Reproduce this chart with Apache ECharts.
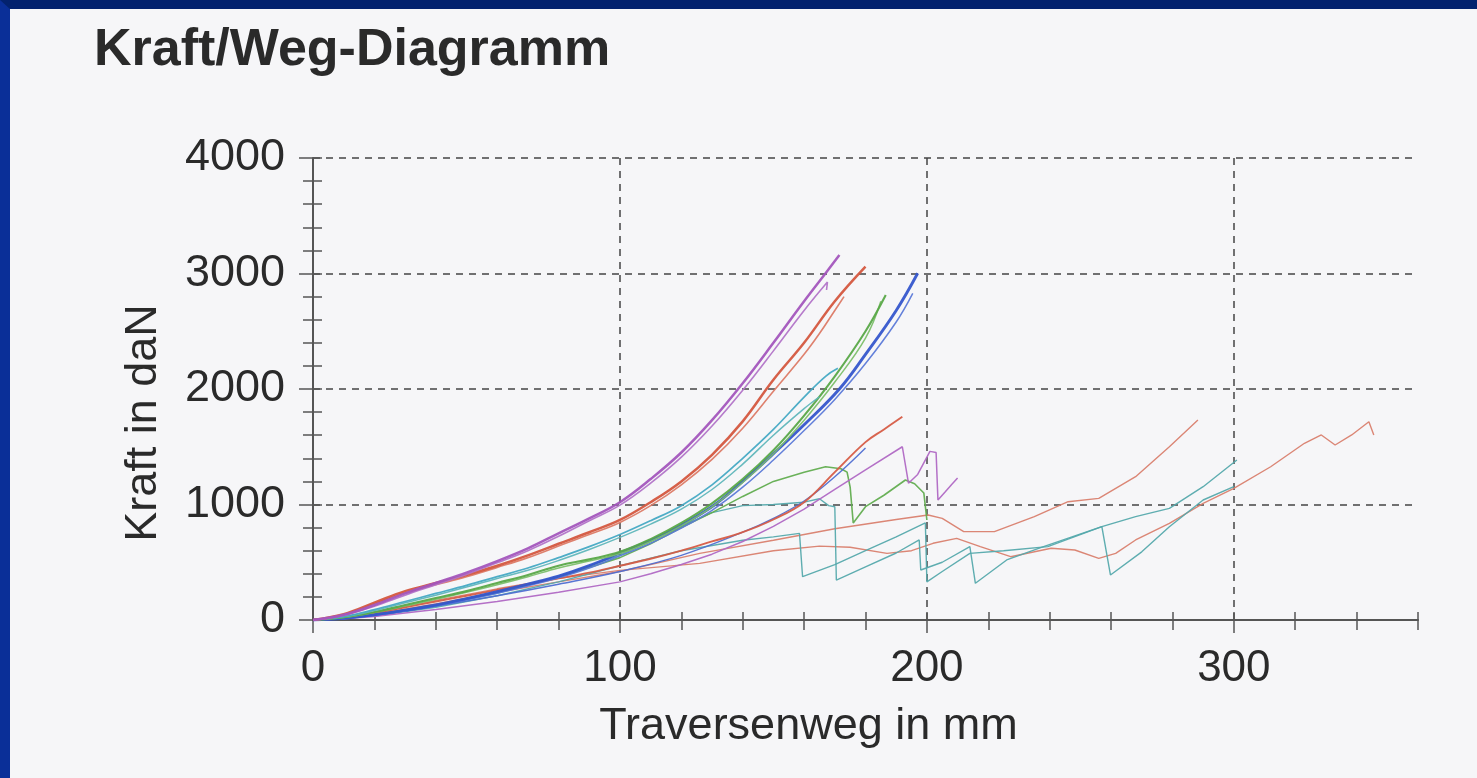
<!DOCTYPE html>
<html>
<head>
<meta charset="utf-8">
<script src="https://cdn.jsdelivr.net/npm/echarts@6/dist/echarts.min.js"></script>
<style>
html,body{margin:0;padding:0;background:#0a2c8c;}
#frame{position:absolute;left:0;top:0;width:1477px;height:778px;box-sizing:border-box;border-top:9px solid #03226e;border-left:10px solid #0a2f98;background:#f6f6f8;}
#chart{width:1467px;height:769px;}
</style>
</head>
<body>
<div id="frame"><div id="chart"></div></div>
<script>
// ---- data (Traversenweg mm, Kraft daN) ----
const title = 'Kraft/Weg-Diagramm';
const xName = 'Traversenweg in mm';
const yName = 'Kraft in daN';
const xTicks = [0, 100, 200, 300];
const yTicks = [0, 1000, 2000, 3000, 4000];

const purple1 = [[0,0],[10,45],[20,130],[30,230],[40,320],[50,410],[60,510],[70,620],[80,750],[90,880],[100,1020],[110,1220],[120,1450],[130,1730],[140,2050],[150,2400],[160,2760],[167,3002],[171.5,3160]];
const purple2 = [[0,0],[10,40],[20,120],[30,215],[40,305],[50,395],[60,495],[70,600],[80,725],[90,860],[100,995],[110,1185],[120,1410],[130,1680],[140,1990],[150,2330],[160,2680],[167.6,2926],[167.3,2857]];
const red1 = [[0,0],[10,50],[20,150],[30,250],[40,320],[50,390],[60,470],[70,560],[80,660],[90,760],[100,866],[110,1020],[120,1200],[130,1430],[140,1720],[150,2080],[160,2400],[170,2760],[180,3060]];
const red2 = [[0,0],[10,45],[20,140],[30,235],[40,305],[50,375],[60,455],[70,540],[80,640],[90,740],[100,845],[110,990],[120,1170],[130,1390],[140,1660],[150,1980],[160,2300],[165,2480],[170,2680],[173,2800]];
const cyan1 = [[0,0],[10,30],[20,90],[30,160],[40,230],[50,300],[60,375],[70,450],[80,540],[90,635],[100,740],[110,860],[120,990],[130,1170],[140,1400],[150,1650],[160,1930],[167,2110],[171,2179]];
const cyan2 = [[0,0],[10,28],[20,82],[30,150],[40,215],[50,285],[60,360],[70,430],[80,515],[90,610],[100,715],[110,830],[120,960],[130,1130],[140,1350],[150,1600],[160,1830],[165,1933]];
const green1 = [[0,0],[10,25],[20,70],[30,130],[40,190],[50,250],[60,320],[70,390],[80,470],[90,525],[100,590],[110,700],[120,840],[130,1010],[140,1220],[150,1470],[160,1770],[170,2110],[180,2500],[186.6,2814]];
const green2 = [[0,0],[10,22],[20,65],[30,120],[40,180],[50,240],[60,305],[70,375],[80,450],[90,510],[100,575],[110,680],[120,815],[130,980],[140,1190],[150,1440],[160,1730],[170,2060],[180,2440],[185,2760]];
const blue1 = [[0,0],[10,15],[20,45],[30,85],[40,130],[50,185],[60,245],[70,310],[80,380],[90,470],[100,580],[110,690],[120,820],[131,1000],[140,1200],[150,1440],[160,1690],[171.5,2000],[180,2300],[190,2680],[197,3002]];
const blue2 = [[0,0],[10,12],[20,40],[30,78],[40,122],[50,175],[60,232],[70,295],[80,365],[90,450],[100,555],[110,665],[120,795],[130,950],[140,1150],[150,1385],[160,1640],[170,1910],[180,2220],[190,2580],[195.4,2828]];
const redL1 = [[0,0],[10,20],[20,60],[30,110],[40,160],[50,210],[60,260],[70,310],[80,360],[90,410],[100,470],[110,530],[120,600],[130,680],[140,760],[150,870],[160,1020],[170,1280],[180,1540],[186,1650],[192,1760]];
const blueL1 = [[0,0],[10,12],[20,40],[40,120],[60,210],[80,310],[100,420],[120,560],[140,760],[150,880],[160,1030],[170,1240],[180,1489]];
const purpleL1 = [[0,0],[10,10],[20,30],[40,90],[60,160],[80,240],[100,330],[110,400],[120,480],[130,570],[140,680],[150,810],[160,960],[170,1130],[180,1300],[192,1500],[194,1184],[197,1260],[201,1460],[203,1450],[203.6,1039],[206,1110],[208,1170],[210,1229]];
const greenL = [[0,0],[10,15],[20,45],[40,130],[60,240],[80,370],[100,540],[110,660],[120,800],[130,930],[140,1070],[150,1200],[160,1280],[167,1327],[172,1310],[174,1280],[175,1150],[176,840],[180,981],[186,1080],[193,1212],[196,1180],[199,1100],[200,866]];
const tealA = [[0,0],[10,20],[20,40],[40,120],[60,230],[80,380],[100,560],[110,680],[120,810],[130,930],[140,990],[150,1000],[160,1020],[165,1050],[168,990],[170,981],[170.5,346],[180,460],[190,580],[197.5,693],[198,433],[205,500],[214,635],[215.8,318],[226,520],[238,635],[257,808],[259.8,390],[270,590],[279,808],[290,1039],[300,1154]];
const tealB = [[0,0],[10,18],[20,35],[40,110],[60,210],[80,330],[100,470],[120,600],[140,690],[150,720],[158.5,750],[159.5,375],[170,480],[180,600],[190,720],[199.5,840],[200,330],[205,420],[214,577],[225,600],[239.4,635],[257,808],[268,895],[279,967],[290,1154],[301,1385]];
const redA = [[0,0],[10,18],[20,50],[40,140],[60,240],[80,330],[100,420],[126,577],[150,690],[170,790],[190,870],[200.4,909],[205,880],[212,765],[222,765],[235,895],[246,1024],[256,1053],[268,1241],[279,1500],[288.3,1732]];
const redB = [[0,0],[10,16],[20,60],[40,170],[60,270],[80,360],[100,430],[126,490],[150,600],[165,640],[175,630],[187,577],[195,600],[202,664],[209.7,707],[217.4,635],[227.3,548],[240.5,621],[248.2,606],[256,534],[261.5,577],[268,693],[279,837],[290,1010],[300,1140],[312,1327],[323,1530],[328.5,1602],[333,1515],[338.4,1602],[344,1717],[345.6,1602]];

// name, data, colour, width, smooth
const seriesDefs = [
  ['redB', redB, '#d9806e', 1.4, false],
  ['redA', redA, '#d9806e', 1.4, false],
  ['tealB', tealB, '#55a9ac', 1.4, false],
  ['tealA', tealA, '#55a9ac', 1.4, false],
  ['greenL', greenL, '#62ad50', 1.6, false],
  ['purpleL1', purpleL1, '#b068c4', 1.5, false],
  ['blueL1', blueL1, '#4f6ed2', 1.4, 0.4],
  ['redL1', redL1, '#d65c46', 1.9, 0.4],
  ['blue2', blue2, '#5b79d8', 1.5, 0.4],
  ['blue1', blue1, '#3556cc', 2.9, 0.4],
  ['green2', green2, '#7cbf6a', 1.5, 0.4],
  ['green1', green1, '#58a848', 2.1, 0.4],
  ['cyan2', cyan2, '#5fb6ba', 1.5, 0.4],
  ['cyan1', cyan1, '#45a9c4', 1.7, 0.4],
  ['red2', red2, '#dc7a66', 1.6, 0.4],
  ['red1', red1, '#d4573f', 2.5, 0.4],
  ['purple2', purple2, '#b274c8', 1.6, 0.4],
  ['purple1', purple1, '#a356bd', 2.5, 0.4]
];

const FONT = '"Liberation Sans", Arial, sans-serif';
const AX = '#555';
const chart = echarts.init(document.getElementById('chart'), null, {renderer: 'canvas'});

const baseX = {type: 'value', min: 0, max: 360, position: 'bottom', gridIndex: 0};
const baseY = {type: 'value', min: 0, max: 4000, position: 'left', gridIndex: 0};

chart.setOption({
  animation: false,
  backgroundColor: 'transparent',
  title: {
    text: title, left: 79, top: 11,
    textStyle: {fontFamily: FONT, fontSize: 52, fontWeight: 'bold', color: '#2a2a2a'}
  },
  grid: {left: 303, top: 149, right: 59, bottom: 158, containLabel: false},
  xAxis: [
    Object.assign({}, baseX, {
      interval: 100,
      name: xName, nameLocation: 'middle', nameGap: 84,
      nameTextStyle: {fontFamily: FONT, fontSize: 45, color: '#2a2a2a', padding: [0, 114, 0, 0]},
      axisLine: {show: true, lineStyle: {color: AX, width: 2}},
      axisTick: {show: true, length: 13, lineStyle: {color: AX, width: 1.5}},
      axisLabel: {
        show: true, margin: 27, fontFamily: FONT, fontSize: 44, color: '#2a2a2a',
        showMaxLabel: false,
        formatter: v => (xTicks.indexOf(v) >= 0 ? String(v) : '')
      },
      splitLine: {show: true, showMinLine: false, showMaxLine: false, lineStyle: {color: '#444', width: 1.5, type: [7, 6]}}
    }),
    Object.assign({}, baseX, {
      interval: 20,
      axisLine: {show: false}, axisLabel: {show: false}, splitLine: {show: false},
      axisTick: {show: true, length: 10, lineStyle: {color: AX, width: 1.5}}
    }),
    Object.assign({}, baseX, {
      interval: 20,
      axisLine: {show: false}, axisLabel: {show: false}, splitLine: {show: false},
      axisTick: {show: true, inside: true, length: 8, lineStyle: {color: AX, width: 1.5}}
    })
  ],
  yAxis: [
    Object.assign({}, baseY, {
      interval: 1000,
      name: yName, nameLocation: 'middle', nameGap: 147,
      nameTextStyle: {fontFamily: FONT, fontSize: 45, color: '#2a2a2a', padding: [0, 68, 0, 0]},
      axisLine: {show: true, lineStyle: {color: AX, width: 2}},
      axisTick: {show: true, length: 14, lineStyle: {color: AX, width: 1.5}},
      minorTick: {show: true, splitNumber: 5, length: 10, lineStyle: {color: AX, width: 1.5}},
      axisLabel: {
        show: true, margin: 28, fontFamily: FONT, fontSize: 45, color: '#2a2a2a',
        formatter: v => (yTicks.indexOf(v) >= 0 ? String(v) : '')
      },
      splitLine: {show: true, showMinLine: false, lineStyle: {color: '#444', width: 1.5, type: [7, 6]}}
    }),
    Object.assign({}, baseY, {
      interval: 200,
      axisLine: {show: false}, axisLabel: {show: false}, splitLine: {show: false},
      axisTick: {show: true, inside: true, length: 9, lineStyle: {color: AX, width: 1.5}}
    })
  ],
  series: seriesDefs.map(d => ({
    name: d[0], type: 'line', xAxisIndex: 0, yAxisIndex: 0,
    data: d[1], showSymbol: false, symbol: 'none',
    smooth: d[4],
    lineStyle: {color: d[2], width: d[3], opacity: 0.95},
    z: 3
  }))
});
</script>
</body>
</html>
